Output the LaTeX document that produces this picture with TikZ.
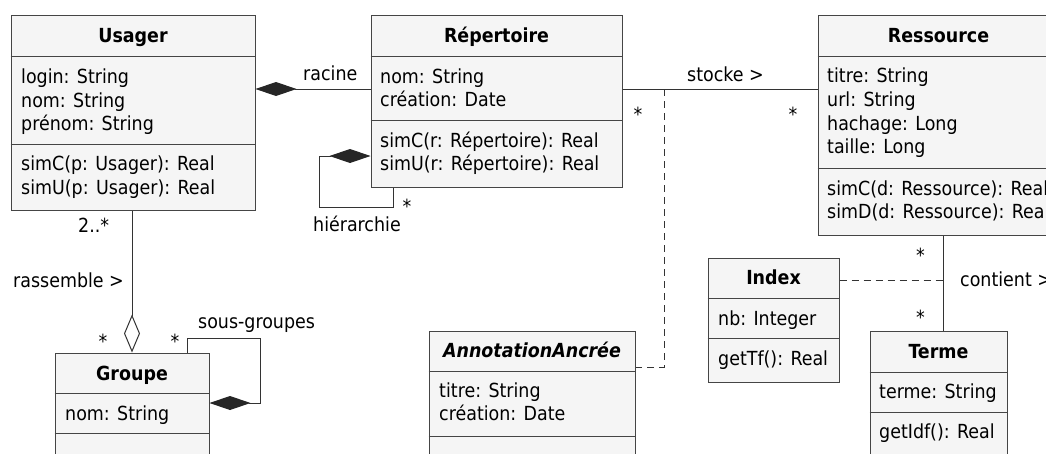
\documentclass[tikz,border=0pt]{standalone}
\usepackage{fontspec}
\setmainfont{DejaVu Sans Condensed}
\usetikzlibrary{arrows.meta,fit}
\definecolor{boxfill}{HTML}{F5F5F5}
\definecolor{border}{HTML}{454545}
\definecolor{linecol}{HTML}{333333}
\definecolor{diamondcol}{HTML}{262626}
\tikzset{
  cls/.style={draw=border, fill=boxfill, line width=1pt, inner sep=0pt, rectangle},
  sepline/.style={draw=border, line width=1pt},
  ttl/.style={anchor=base, inner sep=0pt, font=\fontsize{19.4}{24}\selectfont\bfseries},
  ittl/.style={anchor=base, inner sep=0pt, font=\fontsize{19.4}{24}\selectfont\bfseries\itshape},
  txt/.style={anchor=base west, inner sep=0pt},
  mult/.style={anchor=base, inner sep=0pt},
  assoc/.style={draw=linecol, line width=1pt},
  comp/.style={assoc, {Diamond[length=41pt, width=14pt, fill=diamondcol, color=diamondcol]}-},
  agg/.style={assoc, {Diamond[open, length=38pt, width=16pt, fill=white, color=linecol]}-},
  dashline/.style={draw=linecol, line width=0.9pt, dash pattern=on 7pt off 5pt},
}
\begin{document}
\begin{tikzpicture}[x=1pt, y=-1pt, font=\fontsize{19.4}{24}\selectfont]
\useasboundingbox (0,0) rectangle (1046,453);
\clip (0,0) rectangle (1046,453);

% ---------- Usager ----------
\node[cls, fit={(11,15)(255,210)}] (usager) {};
\draw[sepline] (usager.west |- 0,56) -- (usager.east |- 0,56);
\draw[sepline] (usager.west |- 0,144) -- (usager.east |- 0,144);
\node[ttl] (u-t) at (133,42) {Usager};
\node[txt] (u-a1) at (21,83) {login: String};
\node[txt] (u-a2) at (21,107) {nom: String};
\node[txt] (u-a3) at (21,130.5) {prénom: String};
\node[txt] (u-m1) at (21,170.5) {simC(p: Usager): Real};
\node[txt] (u-m2) at (21,194) {simU(p: Usager): Real};

% ---------- Repertoire ----------
\node[cls, fit={(371,15)(622,187)}] (repertoire) {};
\draw[sepline] (repertoire.west |- 0,56) -- (repertoire.east |- 0,56);
\draw[sepline] (repertoire.west |- 0,120) -- (repertoire.east |- 0,120);
\node[ttl] (r-t) at (496.5,42) {Répertoire};
\node[txt] (r-a1) at (380,83) {nom: String};
\node[txt] (r-a2) at (380,106.5) {création: Date};
\node[txt] (r-m1) at (380,147) {simC(r: Répertoire): Real};
\node[txt] (r-m2) at (380,170.5) {simU(r: Répertoire): Real};

% ---------- Ressource ----------
\node[cls, fit={(818,15)(1059,235)}] (ressource) {};
\draw[sepline] (ressource.west |- 0,56) -- (ressource.east |- 0,56);
\draw[sepline] (ressource.west |- 0,168) -- (ressource.east |- 0,168);
\node[ttl] (s-t) at (938.5,42) {Ressource};
\node[txt] (s-a1) at (827,82.5) {titre: String};
\node[txt] (s-a2) at (827,106.3) {url: String};
\node[txt] (s-a3) at (827,130.1) {hachage: Long};
\node[txt] (s-a4) at (827,153.9) {taille: Long};
\node[txt] (s-m1) at (827,195) {simC(d: Ressource): Real};
\node[txt] (s-m2) at (827,218.5) {simD(d: Ressource): Real};

% ---------- Groupe ----------
\node[cls, fit={(55,353)(209,475)}] (groupe) {};
\draw[sepline] (groupe.west |- 0,393) -- (groupe.east |- 0,393);
\draw[sepline] (groupe.west |- 0,433) -- (groupe.east |- 0,433);
\node[ttl] (g-t) at (132,380) {Groupe};
\node[txt] (g-a1) at (65,420) {nom: String};

% ---------- AnnotationAncree ----------
\node[cls, fit={(429,331)(635,475)}] (annotation) {};
\draw[sepline] (annotation.west |- 0,371) -- (annotation.east |- 0,371);
\draw[sepline] (annotation.west |- 0,436) -- (annotation.east |- 0,436);
\node[ittl] (a-t) at (532,357) {AnnotationAncrée};
\node[txt] (a-a1) at (439,397) {titre: String};
\node[txt] (a-a2) at (439,420.5) {création: Date};

% ---------- Index ----------
\node[cls, fit={(708,258)(839,382)}] (index) {};
\draw[sepline] (index.west |- 0,298) -- (index.east |- 0,298);
\draw[sepline] (index.west |- 0,338) -- (index.east |- 0,338);
\node[ttl] (i-t) at (773.5,284) {Index};
\node[txt] (i-a1) at (718,325) {nb: Integer};
\node[txt] (i-m1) at (718,365) {getTf(): Real};

% ---------- Terme ----------
\node[cls, fit={(870,331)(1007,475)}] (terme) {};
\draw[sepline] (terme.west |- 0,372) -- (terme.east |- 0,372);
\draw[sepline] (terme.west |- 0,412) -- (terme.east |- 0,412);
\node[ttl] (t-t) at (938.5,358) {Terme};
\node[txt] (t-a1) at (879,398.5) {terme: String};
\node[txt] (t-m1) at (879,438.5) {getIdf(): Real};

% ---------- connectors ----------
% racine
\draw[comp] (usager.east |- 0,89) -- (repertoire.west |- 0,89);
\node[txt] (l-racine) at (303,80) {racine};

% hierarchie
\draw[comp] (repertoire.west |- 0,156) -| (319,207.5) -| (repertoire.south -| 393,0);
\node[mult] (m-hier) at (407,213.4) {*};
\node[txt] (l-hier) at (313,231.5) {hiérarchie};

% stocke
\draw[assoc] (repertoire.east |- 0,89) -- (ressource.west |- 0,89);
\coordinate (stockeMid) at (664,89);
\node[txt] (l-stocke) at (687,81) {stocke >};
\node[mult] (m-st1) at (638,121.4) {*};
\node[mult] (m-st2) at (793,121.4) {*};
\draw[dashline] (stockeMid) |- (annotation.east |- 0,367);

% rassemble
\draw[agg] (groupe.north) -- (groupe.north |- usager.south);
\node[txt] (m-rass1) at (78,232) {2..*};
\node[txt] (l-rass) at (13,287.5) {rassemble >};
\node[mult] (m-rass2) at (103,348.4) {*};

% sous-groupes
\draw[comp] (groupe.east |- 0,403) -| (260,338) -| (groupe.north -| 187,0);
\node[mult] (m-sg) at (175,348.4) {*};
\node[txt] (l-sg) at (198,328) {sous-groupes};

% contient
\draw[assoc] (ressource.south -| 943,0) -- (terme.north -| 943,0);
\coordinate (contientMid) at (943,280.5);
\node[mult] (m-c1) at (920.5,262.4) {*};
\node[mult] (m-c2) at (920.5,324.4) {*};
\node[txt] (l-contient) at (960,286) {contient >};
\draw[dashline] (index.east |- contientMid) -- (contientMid);
\end{tikzpicture}
\end{document}
